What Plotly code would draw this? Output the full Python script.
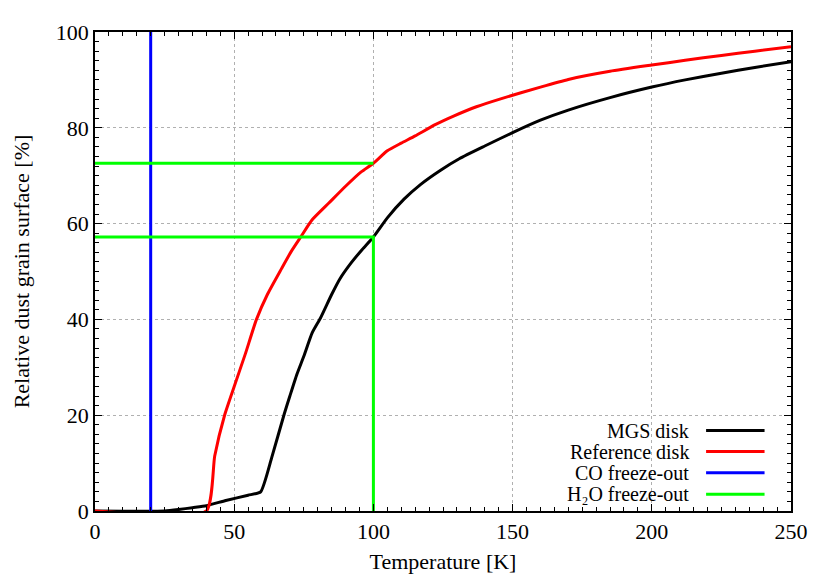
import plotly.graph_objects as go

# MGS disk curve
mgs_temp = [0, 25, 30, 35, 40, 47, 55, 59.5, 63.5, 68, 70, 72.5, 75, 78, 81, 85, 88, 92, 96,
            100, 105, 111, 117, 124, 131, 140, 150, 160, 170, 185, 200, 212, 225, 237, 250]
mgs_pct = [0, 0, 0.3, 0.7, 1.1, 2.2, 3.3, 4.0, 11.2, 20.3, 24.0, 28.5, 32.3, 37.2, 40.3, 45.2,
           48.5, 51.8, 54.6, 57.2, 61.2, 65.1, 68.2, 71.1, 73.6, 76.2, 79.0, 81.6, 83.7, 86.3,
           88.5, 90.0, 91.4, 92.6, 93.8]

# Reference disk curve
ref_temp = [0, 40, 43, 46.6, 50, 54, 58, 62, 67, 70.5, 74, 78, 84, 90, 95.6, 100, 105, 110,
            115, 122, 129, 137, 146, 160, 170, 185, 200, 212, 225, 237, 250]
ref_pct = [0, 0, 11.5, 20.1, 26.0, 32.8, 40.0, 45.3, 50.6, 54.2, 57.3, 60.8, 64.3, 67.8, 70.8,
           72.6, 75.2, 76.8, 78.3, 80.6, 82.5, 84.4, 86.1, 88.5, 90.1, 91.8, 93.1, 94.1, 95.1,
           96.0, 96.9]

# freeze-out temperatures and the surface fractions at H2O freeze-out
co_temp = 20
h2o_temp = 100
h2o_mgs_pct = 57.2
h2o_ref_pct = 72.6

legend_names = ["MGS disk", "Reference disk", "CO freeze-out", "H\u2082O freeze-out"]
colors = ["#000000", "#ff0000", "#0000ff", "#00ff00"]

FONT = "Liberation Serif"

fig = go.Figure()

fig.add_trace(go.Scatter(x=mgs_temp, y=mgs_pct, mode="lines",
                         line=dict(color=colors[0], width=3, shape="spline", smoothing=0.5)))
fig.add_trace(go.Scatter(x=ref_temp, y=ref_pct, mode="lines",
                         line=dict(color=colors[1], width=3, shape="spline", smoothing=0.5)))
fig.add_trace(go.Scatter(x=[co_temp, co_temp], y=[0, 100], mode="lines",
                         line=dict(color=colors[2], width=3)))

# H2O freeze-out: vertical up to the MGS value, horizontals back to the y axis
fig.add_trace(go.Scatter(x=[0, h2o_temp, h2o_temp], y=[h2o_mgs_pct, h2o_mgs_pct, 0],
                         mode="lines", line=dict(color=colors[3], width=3)))
fig.add_trace(go.Scatter(x=[0, h2o_temp], y=[h2o_ref_pct, h2o_ref_pct],
                         mode="lines", line=dict(color=colors[3], width=3)))

axis_common = dict(
    showline=True, linecolor="black", linewidth=1.5, mirror="ticks",
    ticks="inside", ticklen=7, tickwidth=1, tickcolor="black",
    showgrid=True, gridcolor="#b0b0b0", griddash="dot", gridwidth=1,
    zeroline=False,
    tickfont=dict(family=FONT, size=22, color="black"),
)

fig.update_xaxes(range=[0, 250], dtick=50,
                 minor=dict(dtick=5, ticks="inside", ticklen=4, tickcolor="black", showgrid=False),
                 title=dict(text="Temperature [K]", font=dict(family=FONT, size=22, color="black"),
                            standoff=10),
                 **axis_common)
fig.update_yaxes(range=[0, 100], dtick=20,
                 minor=dict(dtick=2, ticks="inside", ticklen=4, tickcolor="black", showgrid=False),
                 title=dict(text="Relative dust grain surface [%]",
                            font=dict(family=FONT, size=22, color="black"), standoff=20),
                 **axis_common)

# legend drawn gnuplot-style: right-aligned text with the line sample after it
row_y = [0.168, 0.124, 0.080, 0.035]
for name, col, yy in zip(legend_names, colors, row_y):
    fig.add_annotation(x=0.857, y=yy, xref="paper", yref="paper", text=name,
                       showarrow=False, xanchor="right", yanchor="middle",
                       font=dict(family=FONT, size=20, color="black"))
    fig.add_shape(type="line", xref="paper", yref="paper",
                  x0=0.878, x1=0.962, y0=yy, y1=yy,
                  line=dict(color=col, width=3))

# page body adds an 8px offset, so margins are shifted to land the frame where it should be
fig.update_layout(
    width=830, height=581,
    margin=dict(l=85, r=47, t=18, b=78),
    plot_bgcolor="white",
    showlegend=False,
)

fig.write_html("out.html")
